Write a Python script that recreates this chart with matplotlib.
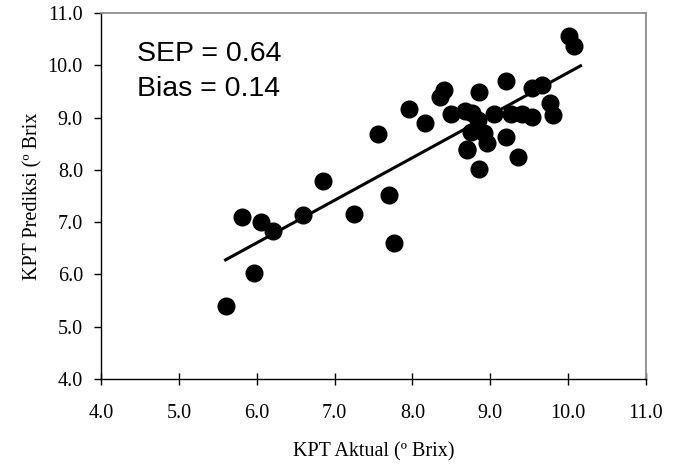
import matplotlib
matplotlib.use("Agg")
import matplotlib.pyplot as plt
import numpy as np

# Data (KPT actual vs predicted, ° Brix)
aktual = [5.60, 5.81, 5.96, 6.06, 6.21, 6.60, 6.85, 7.25, 7.56, 7.70, 7.76,
          7.96, 8.16, 8.36, 8.41, 8.50, 8.68, 8.77, 8.84, 8.85, 8.70, 8.75,
          8.92, 8.96, 8.70, 8.85, 9.05, 9.20, 9.20, 9.26, 9.36, 9.41, 9.54,
          9.54, 9.67, 9.77, 9.80, 10.01, 10.07]
prediksi = [5.40, 7.09, 6.03, 7.00, 6.84, 7.13, 7.79, 7.15, 8.69, 7.52, 6.60,
            9.16, 8.90, 9.40, 9.53, 9.06, 9.13, 9.08, 8.95, 9.48, 8.38, 8.72,
            8.70, 8.51, 8.39, 8.02, 9.06, 9.69, 8.63, 9.06, 8.24, 9.06, 9.02,
            9.56, 9.62, 9.27, 9.05, 10.56, 10.37]

# regression line
fit_slope = 0.814
fit_intercept = 1.72
line_x = [5.60, 10.16]

x_ticks = [4.0, 5.0, 6.0, 7.0, 8.0, 9.0, 10.0, 11.0]
y_ticks = [4.0, 5.0, 6.0, 7.0, 8.0, 9.0, 10.0, 11.0]
tick_labels = ["4.0", "5.0", "6.0", "7.0", "8.0", "9.0", "10.0", "11.0"]

fig = plt.figure(figsize=(6.82, 4.66), dpi=100)
ax = fig.add_axes([101/682, 1 - 379/466, (646 - 101)/682, (379 - 13)/466])

serif = ["Liberation Serif", "DejaVu Serif"]
fs = 14.5

lx = np.array(line_x)
ax.plot(lx, fit_slope * lx + fit_intercept, color="black", lw=2.2, zorder=2)
ax.plot(aktual, prediksi, "o", color="black", markersize=12, zorder=3)

ax.set_xlim(4.0, 11.0)
ax.set_ylim(4.0, 11.0)
ax.set_xticks(x_ticks)
ax.set_xticklabels(tick_labels, fontsize=fs, family=serif)
ax.set_yticks(y_ticks)
ax.set_yticklabels(tick_labels, fontsize=fs, family=serif)
ax.tick_params(axis="x", direction="inout", length=8, width=1, pad=14)
ax.tick_params(axis="y", direction="out", length=5, width=1, pad=8)

for s in ["left", "bottom"]:
    ax.spines[s].set_color("black")
    ax.spines[s].set_linewidth(1.0)
for s in ["top", "right"]:
    ax.spines[s].set_color("#8c8c8c")
    ax.spines[s].set_linewidth(1.3)

ax.set_xlabel("KPT Aktual (º Brix)", fontsize=fs, family=serif, labelpad=13.5)
ax.set_ylabel("KPT Prediksi (º Brix", fontsize=fs, family=serif, labelpad=4)

ax.text(0.066, 0.8675, "SEP = 0.64", transform=ax.transAxes, fontsize=20.5,
        family="Liberation Sans", va="baseline", ha="left")
ax.text(0.066, 0.772, "Bias = 0.14", transform=ax.transAxes, fontsize=20.5,
        family="Liberation Sans", va="baseline", ha="left")

fig.savefig("out.png", dpi=100)
